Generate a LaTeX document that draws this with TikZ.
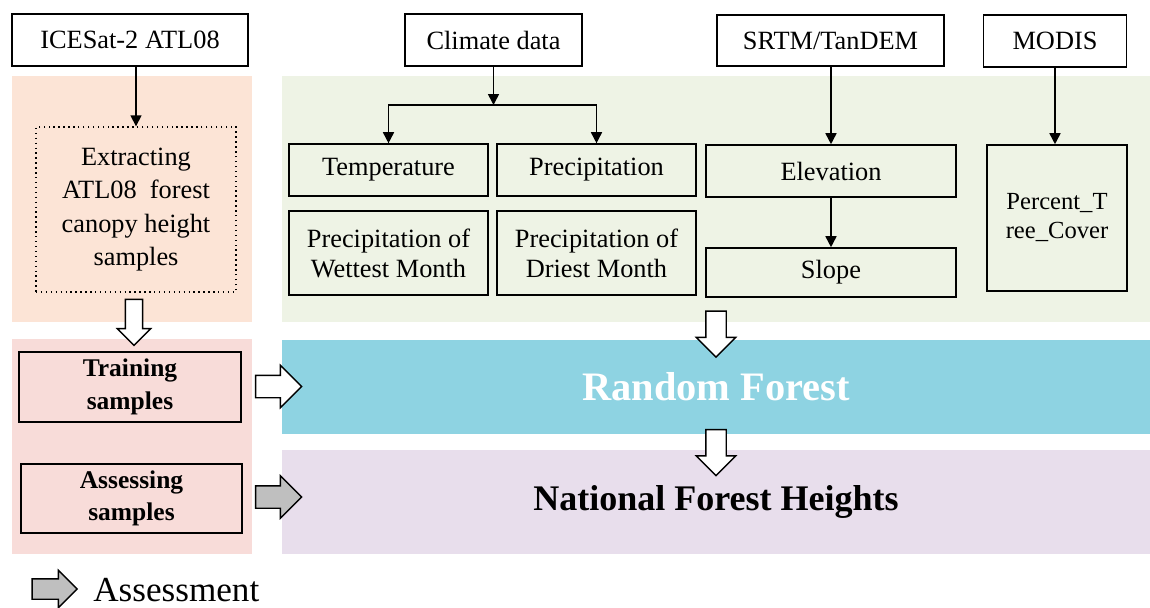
\documentclass[tikz,border=0pt]{standalone}
\usepackage{fontspec}
\setmainfont{Liberation Serif}
\usetikzlibrary{shapes.geometric, shapes.arrows, arrows, arrows.meta}
\definecolor{orangebg}{HTML}{FCE4D6}
\definecolor{pinkbg}{HTML}{F8DCD9}
\definecolor{greenbg}{HTML}{EEF3E5}
\definecolor{rfblue}{HTML}{8ED3E2}
\definecolor{hpurple}{HTML}{E8DEEC}
\definecolor{assessgrey}{HTML}{BFBFBF}
\tikzstyle{panel} = [rectangle, draw=none, inner sep=0pt]
\tikzstyle{source} = [rectangle, draw=black, line width=0.9pt, fill=white, minimum height=1.03cm, text centered, font=\fontsize{15}{17}\selectfont]
\tikzstyle{factor} = [rectangle, draw=black, line width=0.9pt, minimum width=3.98cm, minimum height=1.04cm, align=center, font=\fontsize{15}{17}\selectfont]
\tikzstyle{sample} = [rectangle, draw=black, line width=0.9pt, minimum width=4.43cm, minimum height=1.39cm, align=center, font=\bfseries\fontsize{14.5}{18.5}\selectfont]
\tikzstyle{arrow} = [line width=0.9pt,->,>={Triangle[length=0.22cm,width=0.22cm]}]
\tikzstyle{hollow} = [single arrow, draw=black, thick, fill=white, inner sep=0pt, minimum width=0pt, minimum height=0.92cm]
\tikzstyle{assessarrow} = [hollow, fill=assessgrey, inner ysep=0.21cm, single arrow head extend=0.2cm]

\begin{document}
\begin{tikzpicture}[x=0.02cm, y=-0.02cm]
		\useasboundingbox (0,0) rectangle (1150,608);

		% background panels
		\node (samplepanel) [panel, fill=orangebg, minimum width=4.8cm, minimum height=4.92cm] at (132,199) {};
		\node (splitpanel) [panel, fill=pinkbg, minimum width=4.8cm, minimum height=4.3cm] at (132,446.5) {};
		\node (factorpanel) [panel, fill=greenbg, minimum width=17.36cm, minimum height=4.92cm] at (716,199) {};
		\node (rf) [panel, fill=rfblue, minimum width=17.36cm, minimum height=1.88cm, text=white, font=\bfseries\fontsize{23}{26}\selectfont] at (716,387) {Random Forest};
		\node (heights) [panel, fill=hpurple, minimum width=17.36cm, minimum height=2.08cm, font=\bfseries\fontsize{20.5}{23}\selectfont] at (716,502) {National Forest Heights};

		% data sources
		\node (icesat) [source, minimum width=4.72cm] at (130,40) {ICESat-2 ATL08};
		\node (climate) [source, minimum width=3.54cm] at (493.5,40) {Climate data};
		\node (srtm) [source, minimum width=4.54cm] at (830.5,40.5) {SRTM/TanDEM};
		\node (modis) [source, minimum width=2.86cm] at (1055,41) {MODIS};

		% samples
		\node (extract) [rectangle, draw=black, thick, dotted, minimum width=4.0cm, minimum height=3.3cm, align=center, font=\fontsize{15}{19}\selectfont] at (136,209.5) {Extracting\\ATL08~ forest\\canopy height\\samples};
		\node (train) [sample] at (130,387) {Training\\samples};
		\node (assess) [sample] at (131.5,498.5) {Assessing\\samples};

		% factors
		\node (temp) [factor] at (388.5,170) {Temperature};
		\node (precip) [factor] at (596.5,170) {Precipitation};
		\node (wettest) [factor, minimum height=1.68cm] at (388.5,253) {Precipitation of\\Wettest Month};
		\node (driest) [factor, minimum height=1.68cm] at (596.5,253) {Precipitation of\\Driest Month};
		\node (elev) [factor, minimum width=5.0cm] at (831,171) {Elevation};
		\node (slope) [factor, minimum width=5.0cm, minimum height=0.98cm] at (831,272.5) {Slope};
		\node (ptc) [factor, minimum width=2.8cm, minimum height=2.92cm, font=\fontsize{14}{16.5}\selectfont] at (1057,218) {Percent\_T\\ree\_Cover};
		\coordinate (split) at (493.5,105);

		\draw [arrow] (extract.north |- icesat.south) -- (extract.north);
		\draw [arrow] (climate.south) -- (split);
		\draw [line width=0.9pt] (split) -| (temp.north);
		\draw [line width=0.9pt] (split) -| (precip.north);
		\draw [arrow] (split -| temp.north) -- (temp.north);
		\draw [arrow] (split -| precip.north) -- (precip.north);
		\draw [arrow] (srtm.south -| elev.north) -- (elev.north);
		\draw [arrow] (elev) -- (slope);
		\draw [arrow] (modis.south) -- (modis.south |- ptc.north);

		% block arrows
		\node (toTrain) [hollow, rotate=-90, inner ysep=0.16cm, single arrow head extend=0.16cm] at (134,318) {};
		\node (toRF) [hollow, rotate=-90, inner ysep=0.19cm, single arrow head extend=0.19cm] at (716,329) {};
		\node (toHeights) [hollow, rotate=-90, inner ysep=0.19cm, single arrow head extend=0.19cm] at (716,447.5) {};
		\node (trainRF) [hollow, inner ysep=0.21cm, single arrow head extend=0.2cm] at (273,386.5) {};
		\node (assessHeights) [assessarrow] at (273,497) {};

		% legend
		\node (legendarrow) [assessarrow, minimum height=0.9cm, inner ysep=0.19cm, single arrow head extend=0.17cm] at (49.5,589) {};
		\node (legend) [anchor=west, inner sep=0pt, font=\fontsize{20}{22}\selectfont] at (93,590) {Assessment};

		\end{tikzpicture}
\end{document}
